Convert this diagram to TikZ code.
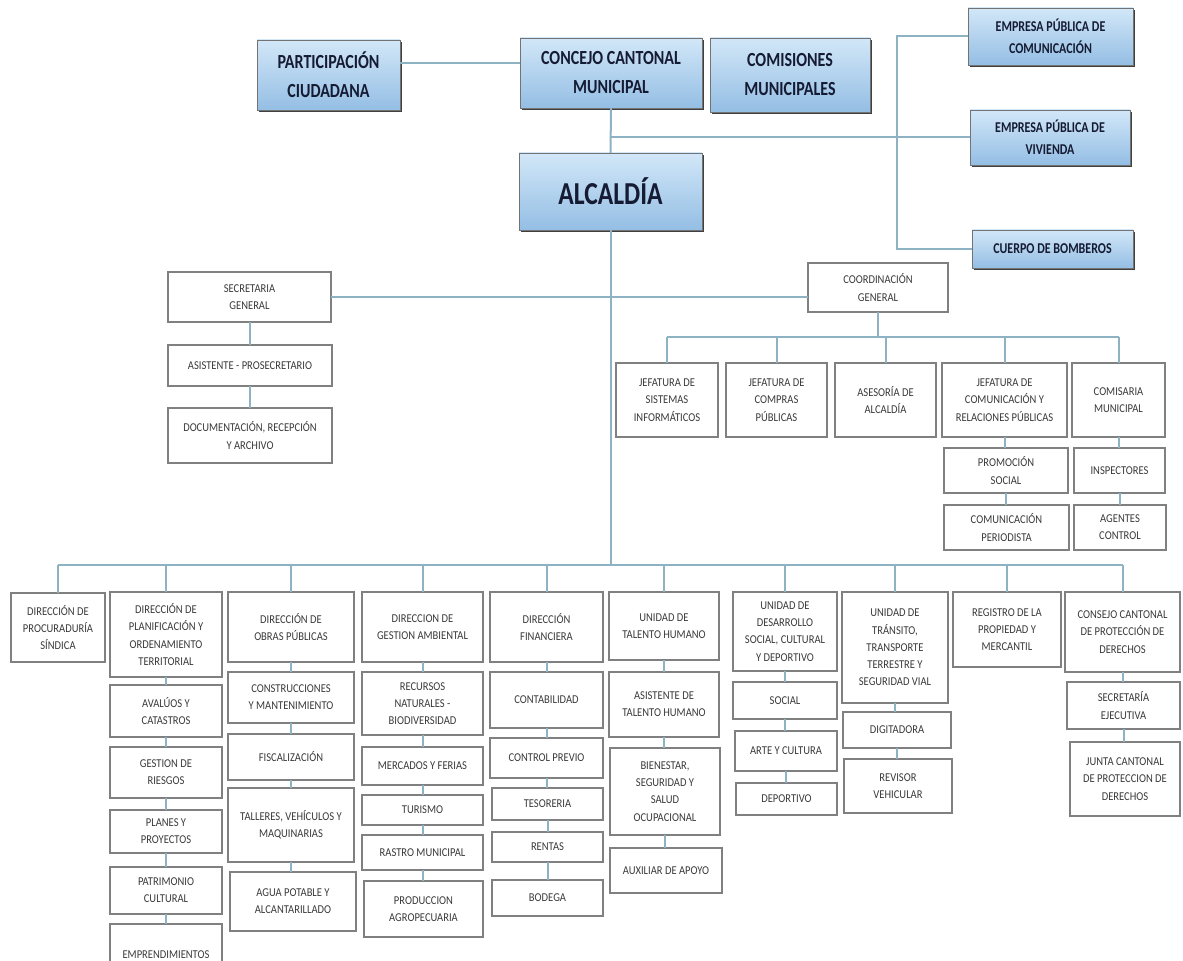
\documentclass[tikz,border=0pt]{standalone}
\usepackage{fontspec}
\setmainfont{Carlito}
\newfontfamily\headfont[FakeStretch=0.8]{Carlito}
\newfontfamily\cellfont[FakeStretch=0.88]{Carlito}
\usetikzlibrary{shadows}
\definecolor{OrgBlueTop}{HTML}{D2E7F8}
\definecolor{OrgBlueBot}{HTML}{94BEE4}
\definecolor{OrgNavy}{HTML}{151B33}
\definecolor{OrgLine}{HTML}{8DB2C4}
\definecolor{OrgGray}{HTML}{3A3A3A}
% box from pixel corners: [style]{name}{x1}{y1}{x2}{y2}{text}
\newcommand{\unitbox}[7][small]{%
  \node[#1, minimum width={(#5-#3)*0.5pt}, minimum height={(#6-#4)*0.5pt}]
    (#2) at ({(#3+#5)/2},{(#4+#6)/2}) {#7};}

\begin{document}
\begin{tikzpicture}[x=0.5pt, y=-0.5pt,
    small/.style = {draw=black!50, line width=0.7pt, fill=white, text=OrgGray,
      font=\cellfont\fontsize{6}{8.6}\selectfont, align=center, inner sep=0pt, outer sep=0pt},
    blue/.style = {draw=black!55, line width=0.4pt, top color=OrgBlueTop, bottom color=OrgBlueBot,
      drop shadow={shadow xshift=1.2pt, shadow yshift=-1.2pt, fill=black!75, opacity=1},
      text=OrgNavy, align=center, inner sep=0pt, outer sep=0pt},
    head/.style = {blue, font=\headfont\bfseries\fontsize{10}{14.5}\selectfont},
    headsm/.style = {blue, font=\headfont\bfseries\fontsize{7.5}{11}\selectfont},
    headbig/.style = {blue, font=\headfont\bfseries\fontsize{16}{18}\selectfont},
    ln/.style = {draw=OrgLine, line width=1pt}]
  \useasboundingbox (0,0) rectangle (1183,961);

  % top level
  \unitbox[head]{part}{257}{40}{400}{110}{PARTICIPACIÓN\\CIUDADANA}
  \unitbox[head]{conc}{520}{38}{702}{108}{CONCEJO CANTONAL\\MUNICIPAL}
  \unitbox[head]{comi}{710}{38}{870}{112}{COMISIONES\\MUNICIPALES}
  \unitbox[headsm]{emcom}{968}{8}{1133}{65}{EMPRESA PÚBLICA DE\\COMUNICACIÓN}
  \unitbox[headsm]{emviv}{970}{110}{1130}{165}{EMPRESA PÚBLICA DE\\VIVIENDA}
  \unitbox[headsm]{bomb}{972}{230}{1133}{268}{CUERPO DE BOMBEROS}
  \unitbox[headbig]{alc}{519}{153}{702}{230}{ALCALDÍA}

  % staff
  \unitbox{sec}{168}{272}{331}{322}{SECRETARIA\\GENERAL}
  \unitbox{asis}{168}{345}{332}{386}{ASISTENTE - PROSECRETARIO}
  \unitbox{doc}{168}{408}{332}{463}{DOCUMENTACIÓN, RECEPCIÓN\\Y ARCHIVO}
  \unitbox{cg}{808}{263}{948}{312}{COORDINACIÓN\\GENERAL}
  \unitbox{j1}{616}{363}{718}{437}{JEFATURA DE\\SISTEMAS\\INFORMÁTICOS}
  \unitbox{j2}{726}{363}{827}{437}{JEFATURA DE\\COMPRAS\\PÚBLICAS}
  \unitbox{j3}{835}{363}{936}{437}{ASESORÍA DE\\ALCALDÍA}
  \unitbox{j4}{942}{363}{1067}{437}{JEFATURA DE\\COMUNICACIÓN Y\\RELACIONES PÚBLICAS}
  \unitbox{j5}{1072}{363}{1165}{437}{COMISARIA\\MUNICIPAL}
  \unitbox{prom}{944}{448}{1068}{493}{PROMOCIÓN\\SOCIAL}
  \unitbox{peri}{944}{505}{1069}{550}{COMUNICACIÓN\\PERIODISTA}
  \unitbox{insp}{1074}{448}{1165}{493}{INSPECTORES}
  \unitbox{agen}{1074}{505}{1166}{550}{AGENTES\\CONTROL}

  % directions
  \unitbox{d1}{11}{593}{105}{662}{DIRECCIÓN DE\\PROCURADURÍA\\SÍNDICA}
  \unitbox{d2}{110}{592}{222}{677}{DIRECCIÓN DE\\PLANIFICACIÓN Y\\ORDENAMIENTO\\TERRITORIAL}
  \unitbox{aval}{110}{685}{222}{737}{AVALÚOS Y\\CATASTROS}
  \unitbox{ries}{110}{747}{222}{798}{GESTION DE\\RIESGOS}
  \unitbox{plan}{110}{810}{222}{853}{PLANES Y\\PROYECTOS}
  \unitbox{patr}{110}{867}{222}{914}{PATRIMONIO\\CULTURAL}
  \unitbox{empr}{110}{924}{222}{985}{EMPRENDIMIENTOS}
  \unitbox{d3}{228}{592}{354}{662}{DIRECCIÓN DE\\OBRAS PÚBLICAS}
  \unitbox{cons}{228}{672}{354}{723}{CONSTRUCCIONES\\Y MANTENIMIENTO}
  \unitbox{fisc}{228}{734}{354}{780}{FISCALIZACIÓN}
  \unitbox{tall}{228}{788}{354}{862}{TALLERES, VEHÍCULOS Y\\MAQUINARIAS}
  \unitbox{agua}{230}{872}{356}{931}{AGUA POTABLE Y\\ALCANTARILLADO}
  \unitbox{d4}{362}{592}{483}{662}{DIRECCION DE\\GESTION AMBIENTAL}
  \unitbox{recu}{362}{672}{483}{735}{RECURSOS\\NATURALES -\\BIODIVERSIDAD}
  \unitbox{merc}{362}{747}{483}{785}{MERCADOS Y FERIAS}
  \unitbox{turi}{362}{795}{483}{825}{TURISMO}
  \unitbox{rast}{362}{835}{483}{870}{RASTRO MUNICIPAL}
  \unitbox{prod}{364}{881}{483}{937}{PRODUCCION\\AGROPECUARIA}
  \unitbox{d5}{490}{592}{603}{662}{DIRECCIÓN\\FINANCIERA}
  \unitbox{cont}{490}{672}{603}{728}{CONTABILIDAD}
  \unitbox{cpre}{490}{738}{603}{778}{CONTROL PREVIO}
  \unitbox{teso}{492}{788}{603}{820}{TESORERIA}
  \unitbox{rent}{492}{832}{603}{862}{RENTAS}
  \unitbox{bode}{492}{880}{603}{916}{BODEGA}
  \unitbox{d6}{609}{592}{719}{660}{UNIDAD DE\\TALENTO HUMANO}
  \unitbox{asth}{609}{672}{719}{737}{ASISTENTE DE\\TALENTO HUMANO}
  \unitbox{bien}{610}{748}{720}{835}{BIENESTAR,\\SEGURIDAD Y\\SALUD\\OCUPACIONAL}
  \unitbox{auxi}{610}{848}{722}{893}{AUXILIAR DE APOYO}
  \unitbox{d7}{733}{592}{837}{671}{UNIDAD DE\\DESARROLLO\\SOCIAL, CULTURAL\\Y DEPORTIVO}
  \unitbox{soci}{733}{682}{837}{719}{SOCIAL}
  \unitbox{arte}{735}{731}{837}{771}{ARTE Y CULTURA}
  \unitbox{depo}{736}{783}{837}{815}{DEPORTIVO}
  \unitbox{d8}{842}{592}{948}{703}{UNIDAD DE\\TRÁNSITO,\\TRANSPORTE\\TERRESTRE Y\\SEGURIDAD VIAL}
  \unitbox{digi}{843}{712}{951}{748}{DIGITADORA}
  \unitbox{revi}{844}{759}{952}{813}{REVISOR\\VEHICULAR}
  \unitbox{d9}{953}{592}{1061}{667}{REGISTRO DE LA\\PROPIEDAD Y\\MERCANTIL}
  \unitbox{d10}{1065}{592}{1180}{672}{CONSEJO CANTONAL\\DE PROTECCIÓN DE\\DERECHOS}
  \unitbox{sece}{1067}{682}{1180}{729}{SECRETARÍA\\EJECUTIVA}
  \unitbox{junt}{1070}{742}{1180}{816}{JUNTA CANTONAL\\DE PROTECCION DE\\DERECHOS}

  % connectors
  \coordinate (rj) at (897,0);
  \coordinate (tb) at (0,337);
  \coordinate (bb) at (0,565);
  \draw[ln] ([yshift=6pt]part.east) -- ([yshift=6pt]part.east -| conc.west);
  \draw[ln] (conc.south) -- (alc.north);
  \draw[ln] (alc.north |- emviv.west) -- (emviv.west);
  \draw[ln] (emcom.west) -- (emcom.west -| rj) |- (bomb.west);
  \draw[ln] (sec.east) -- (sec.east -| cg.west);
  \draw[ln] (cg.south) -- (cg.south |- tb);
  \draw[ln] (j1.north |- tb) -- (j5.north |- tb);
  \foreach \n in {j1,j2,j3,j4,j5}
    \draw[ln] (\n.north) -- (\n.north |- tb);
  \draw[ln] (alc.south) -- (alc.south |- bb);
  \draw[ln] (d1.north |- bb) -- (d10.north |- bb);
  \foreach \n in {d1,d2,d3,d4,d5,d6,d7,d8,d9,d10}
    \draw[ln] (\n.north) -- (\n.north |- bb);
  \foreach \a/\b in {sec/asis, asis/doc, j4/prom, prom/peri, j5/insp, insp/agen,
      d2/aval, aval/ries, ries/plan, plan/patr, patr/empr,
      d3/cons, cons/fisc, fisc/tall, tall/agua,
      d4/recu, recu/merc, merc/turi, turi/rast, rast/prod,
      d5/cont, cont/cpre, cpre/teso, teso/rent, rent/bode,
      d6/asth, asth/bien, bien/auxi, d7/soci, soci/arte, arte/depo,
      d8/digi, digi/revi, d10/sece, sece/junt}
    \draw[ln] (\a.south) -- (\a.south |- \b.north);
\end{tikzpicture}
\end{document}
